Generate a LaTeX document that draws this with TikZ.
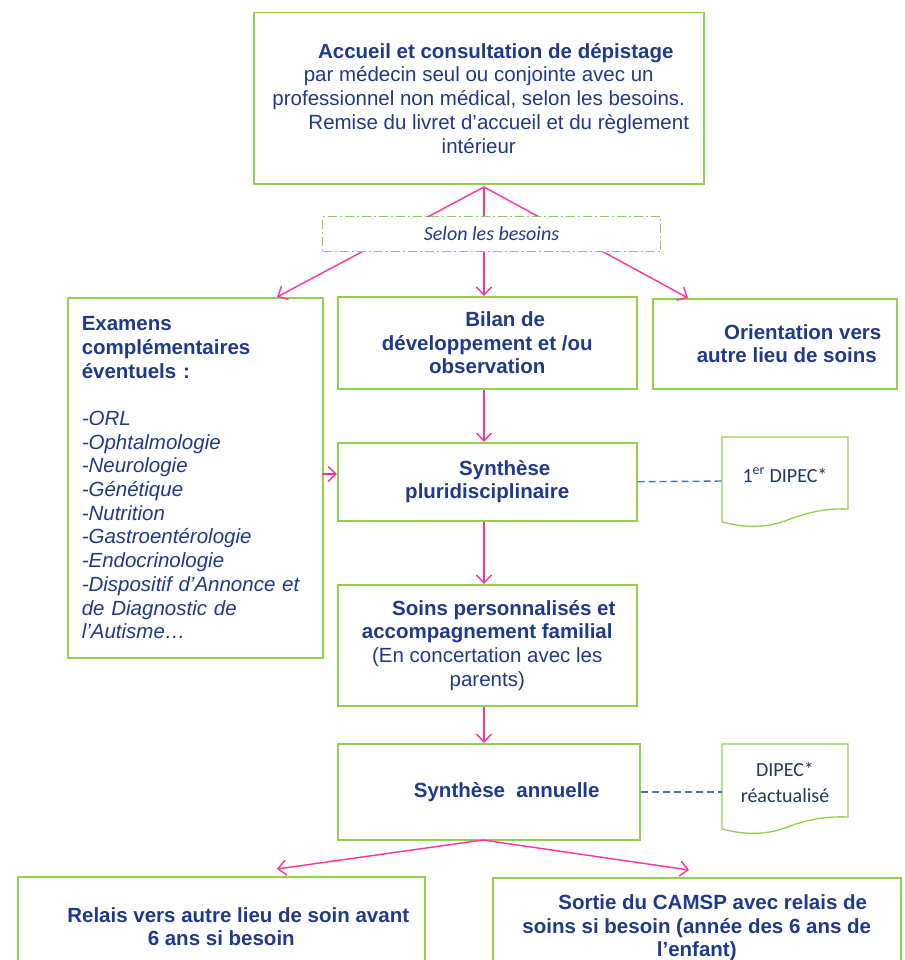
\documentclass[tikz,border=0pt]{standalone}
\usepackage{fontspec}
\setmainfont{Liberation Sans}
\newfontfamily\carlito{Carlito}
\usetikzlibrary{arrows.meta}
\definecolor{navy}{HTML}{1F3A8C}
\definecolor{boxgreen}{HTML}{92D050}
\definecolor{pinkline}{HTML}{FF3399}
\definecolor{dashblue}{HTML}{4472C4}
\definecolor{docnavy}{HTML}{1F3864}
\begin{document}
\begin{tikzpicture}[x=1pt,y=-1pt,
  box/.style={draw=boxgreen, line width=1.5pt, fill=white, inner sep=0pt, anchor=north west,
    text=navy, font=\fontsize{20.5}{23.7}\selectfont, align=center},
  boldbox/.style={box, font=\fontsize{20.5}{23.7}\selectfont\bfseries},
  arr/.style={draw=pinkline, line width=1.4pt, -{Straight Barb[length=8pt,width=15pt]}},
  dashline/.style={draw=dashblue, line width=1.4pt, dash pattern=on 7pt off 4pt},
  doc/.style={draw=boxgreen, line width=1.3pt, fill=white},
  doctext/.style={text=docnavy, font=\carlito\fontsize{20}{26}\selectfont, align=center, inner sep=0pt},
]
\useasboundingbox (0,0) rectangle (904,960);
\clip (0,0) rectangle (904,960);

% boxes
\node[box, minimum width=450pt, minimum height=171pt] (top) at (253,12)
  {\textbf{\hspace*{34pt}Accueil et consultation de dépistage}\\
   par médecin seul ou conjointe avec un\\
   professionnel non médical, selon les besoins.\\
   \hspace*{40pt}Remise du livret d’accueil et du règlement\\
   intérieur};

\node[box, minimum width=255pt, minimum height=360pt, text width=227pt, inner xsep=14pt, align=left] (exam) at (67,297)
  {{\bfseries Examens\\ complémentaires\\ éventuels :}\\[23.7pt]
   \itshape -ORL\\ -Ophtalmologie\\ -Neurologie\\ -Génétique\\ -Nutrition\\
   -Gastroentérologie\\ -Endocrinologie\\ -Dispositif d’Annonce et\\
   de Diagnostic de\\ l’Autisme…};

\node[boldbox, minimum width=299pt, minimum height=92pt] (bilan) at (337,296)
  {\hspace*{36pt}Bilan de\\ développement et /ou\\ observation};

\node[boldbox, minimum width=244pt, minimum height=90pt] (orient) at (652,298)
  {\hspace*{56pt}Orientation vers\\ \hspace*{24pt}autre lieu de soins};

\node[boldbox, minimum width=299pt, minimum height=78pt] (synth) at (337,442)
  {\hspace*{35pt}Synthèse\\ pluridisciplinaire};

\node[box, minimum width=299pt, minimum height=121pt] (soins) at (337,584)
  {\textbf{\hspace*{33pt}Soins personnalisés et}\\
   \textbf{accompagnement familial}\\
   (En concertation avec les\\ parents)};

\node[boldbox, minimum width=302pt, minimum height=96pt] (annu) at (337,743)
  {\hspace*{36pt}Synthèse\ \ annuelle};

\node[boldbox, minimum width=407pt, minimum height=100pt] (relais) at (17,876)
  {\hspace*{34pt}Relais vers autre lieu de soin avant\\ 6 ans si besoin};

\node[boldbox, minimum width=408pt, minimum height=100pt] (sortie) at (492,877)
  {\hspace*{32pt}Sortie du CAMSP avec relais de\\
   soins si besoin (année des 6 ans de\\ l’enfant)};

% documents
\draw[doc] (722,437) -- (848,437) -- (848,509)
  .. controls (825,508) and (805,513) .. (785,521)
  .. controls (765,528) and (745,528) .. (722,522) -- cycle;
\node[doctext] (d1) at (785,475) {1\textsuperscript{er} DIPEC*};
\coordinate (d1w) at (722,481);

\draw[doc] (722,744) -- (848,744) -- (848,817)
  .. controls (825,816) and (805,820) .. (785,828)
  .. controls (765,835) and (745,835) .. (722,829) -- cycle;
\node[doctext] (d2) at (785,782) {DIPEC*\\ réactualisé};
\coordinate (d2w) at (722,792);

% dashed links
\draw[dashline] (synth.east) -- (d1w);
\draw[dashline] (annu.east |- d2w) -- (d2w);

% arrows
\coordinate (ts) at (484,187);
\coordinate (tl) at (277,297);
\coordinate (tr) at (688,298);
\draw[arr] (ts) -- (tl);
\draw[arr] (ts) -- (ts |- bilan.north);
\draw[arr] (ts) -- (tr);

\draw[arr] (ts |- bilan.south) -- (ts |- synth.north);
\draw[arr] (ts |- synth.south) -- (ts |- soins.north);
\draw[arr] (ts |- soins.south) -- (ts |- annu.north);

\coordinate (ea) at (322,474);
\draw[arr] (ea) -- (ea -| synth.west);

\coordinate (bs) at (483,840);
\coordinate (bl) at (277,869);
\coordinate (br) at (689,870);
\draw[arr] (bs) -- (bl);
\draw[arr] (bs) -- (br);

% selon les besoins
\node[draw=boxgreen, fill=white, line width=1pt, dash pattern=on 9pt off 3pt on 2pt off 3pt,
  minimum width=338pt, minimum height=35pt, anchor=north west, inner sep=0pt,
  text=navy, font=\carlito\itshape\fontsize{20}{24}\selectfont] (selon) at (322,216) {Selon les besoins};
\end{tikzpicture}
\end{document}
